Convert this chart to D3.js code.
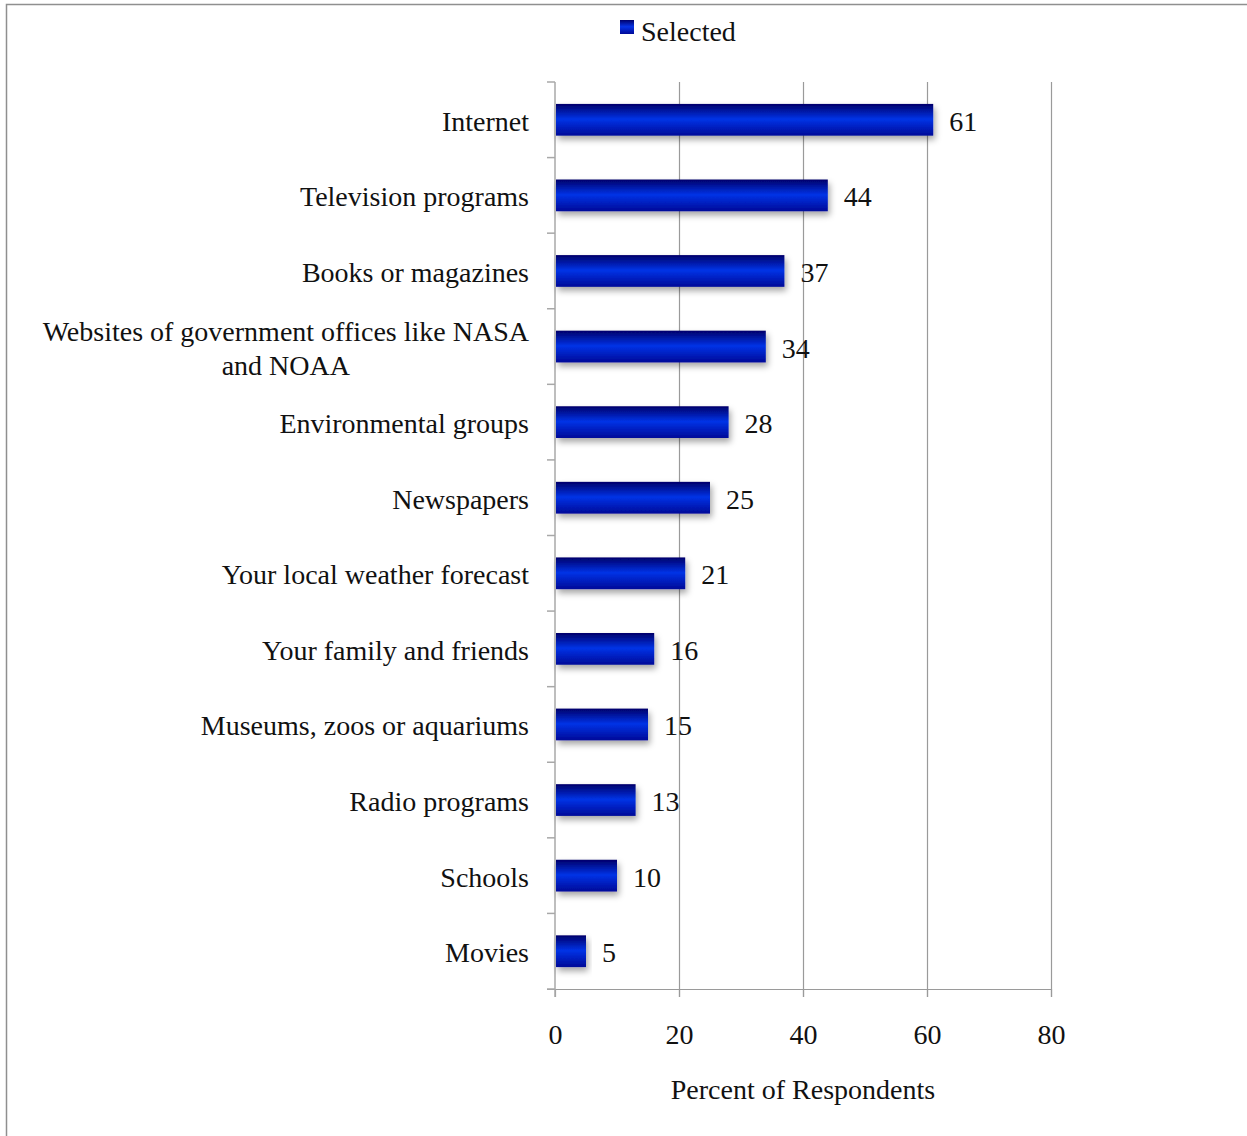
<!DOCTYPE html>
<html>
<head>
<meta charset="utf-8">
<script src="https://d3js.org/d3.v7.min.js"></script>
<style>
  html, body { margin: 0; padding: 0; background: #fff; }
  svg { display: block; }
  text { font-family: "Liberation Serif", "Times New Roman", serif; fill: #111; }
</style>
</head>
<body>
<script>
// Sources of information respondents selected
const categories = [
  "Internet",
  "Television programs",
  "Books or magazines",
  "Websites of government offices like NASA and NOAA",
  "Environmental groups",
  "Newspapers",
  "Your local weather forecast",
  "Your family and friends",
  "Museums, zoos or aquariums",
  "Radio programs",
  "Schools",
  "Movies"
];
const selected = [61, 44, 37, 34, 28, 25, 21, 16, 15, 13, 10, 5];
const xTicks = [0, 20, 40, 60, 80];
const seriesName = "Selected";
const xTitle = "Percent of Respondents";

const W = 1247, H = 1136;
const plot = { left: 555, right: 1051, top: 82, bottom: 989 };
const fontSize = 28;

const svg = d3.select("body").append("svg")
  .attr("width", W).attr("height", H);

const defs = svg.append("defs");
const grad = defs.append("linearGradient")
  .attr("id", "barGrad").attr("x1", 0).attr("y1", 0).attr("x2", 0).attr("y2", 1);
grad.append("stop").attr("offset", "0%").attr("stop-color", "#00006a");
grad.append("stop").attr("offset", "48%").attr("stop-color", "#0633e6");
grad.append("stop").attr("offset", "100%").attr("stop-color", "#000a98");

const shadow = defs.append("filter").attr("id", "barShadow")
  .attr("x", "-10%").attr("y", "-30%").attr("width", "130%").attr("height", "180%");
shadow.append("feDropShadow")
  .attr("dx", 2).attr("dy", 4).attr("stdDeviation", 3)
  .attr("flood-color", "#000").attr("flood-opacity", 0.35);

// outer frame
svg.append("rect")
  .attr("x", 6.5).attr("y", 4.5).attr("width", W + 20).attr("height", H + 20)
  .attr("fill", "none").attr("stroke", "#8f8f8f").attr("stroke-width", 1.5);

const x = d3.scaleLinear().domain([0, 80]).range([plot.left, plot.right]);
const y = d3.scaleBand().domain(categories).range([plot.top, plot.bottom])
  .paddingInner(0.58).paddingOuter(0.29);
const step = y.step();

// vertical gridlines
const grid = svg.append("g")
  .attr("transform", `translate(0,${plot.bottom + 8})`)
  .call(d3.axisBottom(x).tickValues(xTicks.filter(d => d > 0))
    .tickSize(-(plot.bottom + 8 - plot.top)).tickFormat(""));
grid.select(".domain").remove();
grid.selectAll(".tick line").attr("stroke", "#9a9a9a").attr("stroke-width", 1.2);

// bottom axis
const xAxis = svg.append("g")
  .attr("transform", `translate(0,${plot.bottom})`)
  .call(d3.axisBottom(x).tickValues(xTicks).tickSize(8).tickPadding(27).tickSizeOuter(0));
xAxis.select(".domain").attr("d", `M${plot.left - 8},0.5H${plot.right}`)
  .attr("stroke", "#9a9a9a").attr("stroke-width", 1.2);
xAxis.selectAll(".tick line").attr("stroke", "#9a9a9a").attr("stroke-width", 1.2);
xAxis.selectAll(".tick text")
  .style("font-family", '"Liberation Serif", serif')
  .attr("font-size", fontSize).attr("fill", "#111");

// left axis line and band boundary ticks
svg.append("line")
  .attr("x1", plot.left).attr("x2", plot.left)
  .attr("y1", plot.top).attr("y2", plot.bottom + 8)
  .attr("stroke", "#a8a8a8").attr("stroke-width", 1.5);
const bounds = d3.range(categories.length + 1).map(i => plot.top + i * step);
svg.append("g").selectAll("line").data(bounds).join("line")
  .attr("x1", plot.left - 8).attr("x2", plot.left)
  .attr("y1", d => d).attr("y2", d => d)
  .attr("stroke", "#a8a8a8").attr("stroke-width", 1.5);

// bars
svg.append("g").selectAll("rect").data(selected).join("rect")
  .attr("x", x(0) + 1)
  .attr("y", (d, i) => y(categories[i]))
  .attr("width", d => x(d) - x(0) - 1)
  .attr("height", y.bandwidth())
  .attr("fill", "url(#barGrad)")
  .attr("filter", "url(#barShadow)");

// value labels
svg.append("g").selectAll("text").data(selected).join("text")
  .attr("x", d => x(d) + 16)
  .attr("y", (d, i) => y(categories[i]) + y.bandwidth() / 2 + 11)
  .attr("font-size", fontSize)
  .text(d => d);

// category labels, wrapped and centered within a right-aligned block
const labelRight = 529;
const maxLabelWidth = 510;
const lineHeight = 34;
const labels = svg.append("g");
categories.forEach(cat => {
  const cy = y(cat) + y.bandwidth() / 2;
  const t = labels.append("text").attr("font-size", fontSize);
  const words = cat.split(" ");
  const lines = [];
  let cur = [];
  for (const w of words) {
    t.text([...cur, w].join(" "));
    if (cur.length && t.node().getComputedTextLength() > maxLabelWidth) {
      lines.push(cur.join(" "));
      cur = [w];
    } else {
      cur.push(w);
    }
  }
  lines.push(cur.join(" "));
  t.text(null);
  const widths = lines.map(l => { t.text(l); const w = t.node().getComputedTextLength(); t.text(null); return w; });
  const blockW = d3.max(widths);
  const cx = labelRight - blockW / 2;
  const y0 = cy + 11 - (lines.length - 1) * lineHeight / 2;
  t.attr("text-anchor", "middle");
  lines.forEach((l, i) => {
    t.append("tspan").attr("x", cx).attr("y", y0 + i * lineHeight).text(l);
  });
});

// x axis title
svg.append("text")
  .attr("x", (plot.left + plot.right) / 2)
  .attr("y", 1099)
  .attr("text-anchor", "middle")
  .attr("font-size", fontSize)
  .text(xTitle);

// legend
const legend = svg.append("g").attr("transform", "translate(620,20)");
legend.append("rect").attr("width", 14).attr("height", 14).attr("fill", "url(#barGrad)");
legend.append("text").attr("x", 21).attr("y", 21).attr("font-size", fontSize).text(seriesName);
</script>
</body>
</html>
